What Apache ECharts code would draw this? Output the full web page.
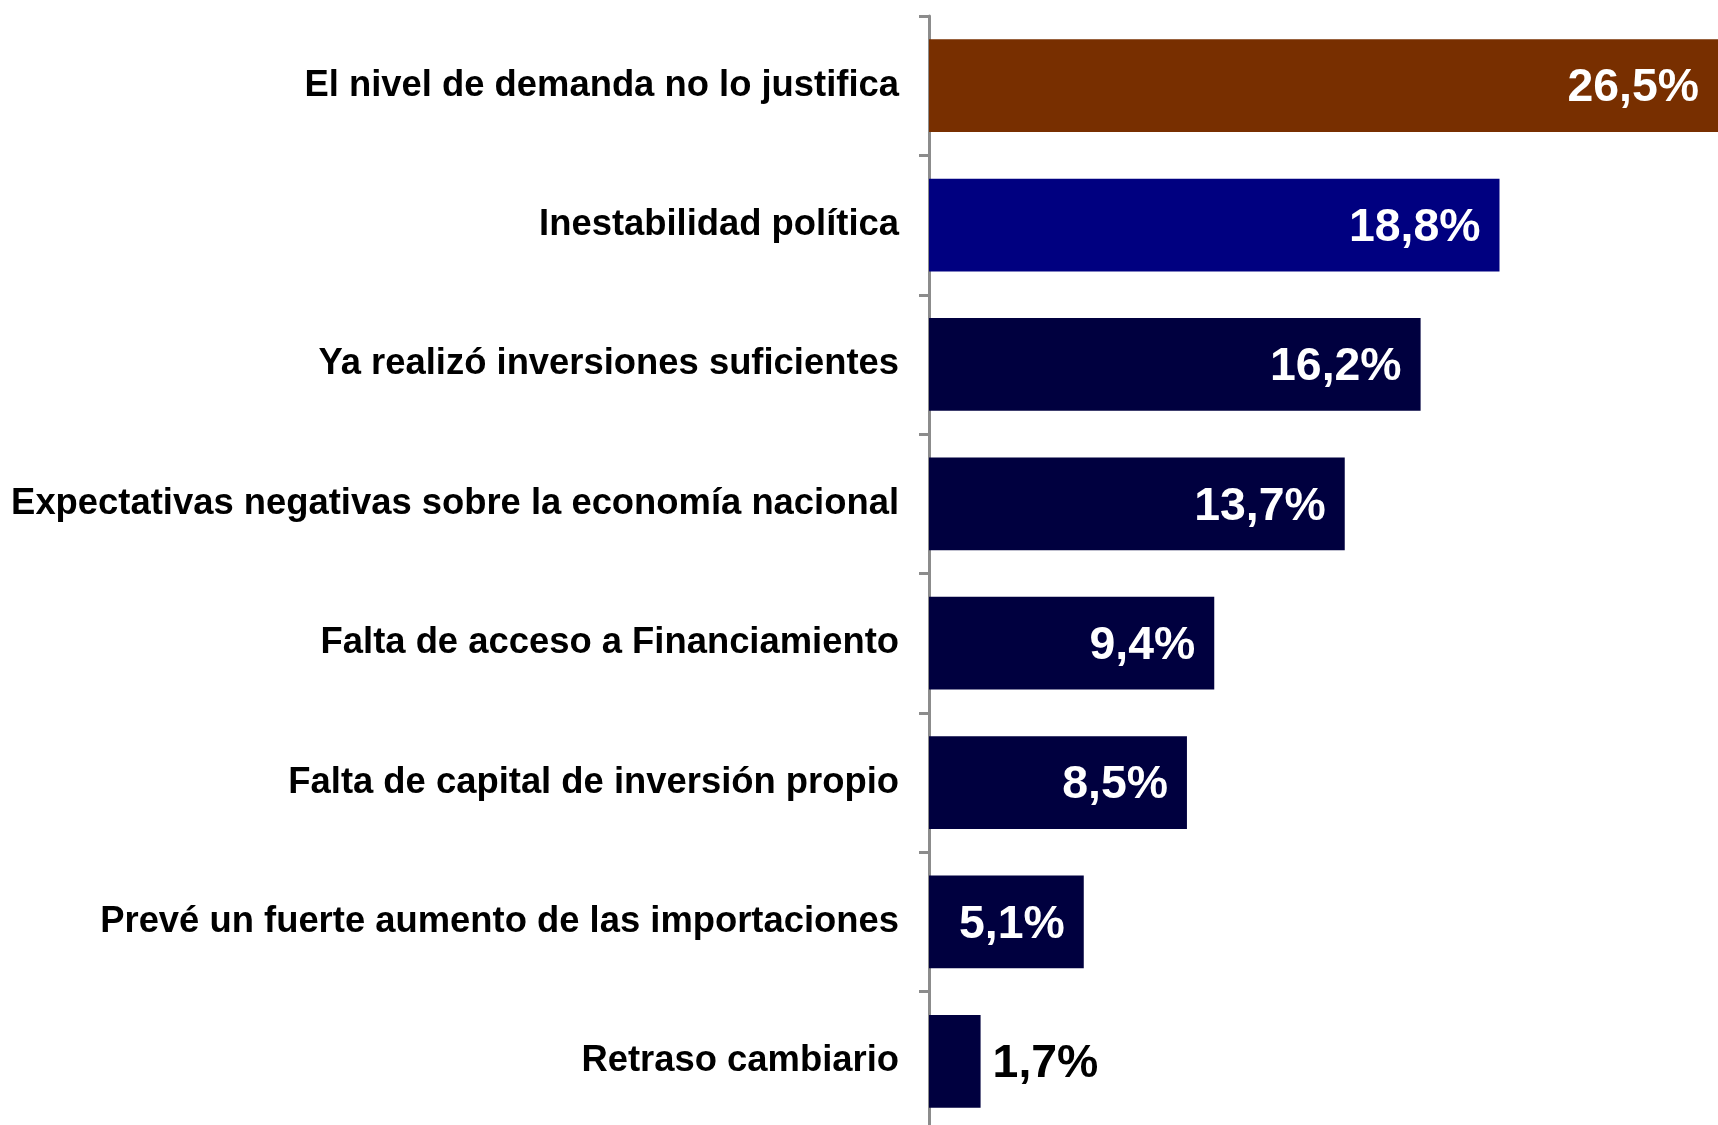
<!DOCTYPE html>
<html>
<head>
<meta charset="utf-8">
<script src="https://cdn.jsdelivr.net/npm/echarts@6/dist/echarts.min.js"></script>
<style>
html,body{margin:0;padding:0;background:#fff;}
#chart{width:1718px;height:1125px;}
</style>
</head>
<body>
<div id="chart"></div>
<script>
var categories = [
  "El nivel de demanda no lo justifica",
  "Inestabilidad política",
  "Ya realizó inversiones suficientes",
  "Expectativas negativas sobre la economía nacional",
  "Falta de acceso a Financiamiento",
  "Falta de capital de inversión propio",
  "Prevé un fuerte aumento de las importaciones",
  "Retraso cambiario"
];
var values = [26.5, 18.8, 16.2, 13.7, 9.4, 8.5, 5.1, 1.7];

var barColors = ["#782F00", "#000080", "#00003F", "#00003F", "#00003F", "#00003F", "#00003F", "#00003F"];

var chart = echarts.init(document.getElementById('chart'));
var font = '"Liberation Sans", Arial, sans-serif';

var seriesData = values.map(function (v, i) {
  var item = { value: v, itemStyle: { color: barColors[i] } };
  if (v < 3) {
    item.label = { position: 'right', color: '#000', distance: 12 };
  }
  return item;
});

chart.setOption({
  animation: false,
  backgroundColor: '#ffffff',
  grid: { left: 929, right: 0, top: 16, height: 1115, containLabel: false, outerBoundsMode: 'none' },
  xAxis: {
    type: 'value', min: 0, max: 26,
    show: false
  },
  yAxis: {
    type: 'category', data: categories, inverse: true,
    axisLine: { show: true, lineStyle: { color: '#8c8c8c', width: 3 } },
    axisTick: { show: true, length: 10, lineStyle: { color: '#8c8c8c', width: 3 } },
    axisLabel: { color: '#000', fontFamily: font, fontWeight: 'bold', fontSize: 36.4, margin: 30, padding: [5, 0, 0, 0] }
  },
  series: [{
    type: 'bar',
    data: seriesData,
    barCategoryGap: '33.5%',
    clip: true,
    label: {
      show: true, position: 'insideRight', distance: 19, offset: [0, 3],
      color: '#fff', fontFamily: font, fontWeight: 'bold', fontSize: 46.4,
      formatter: function (p) { return p.value.toFixed(1).replace('.', ',') + '%'; }
    }
  }]
});
</script>
</body>
</html>
